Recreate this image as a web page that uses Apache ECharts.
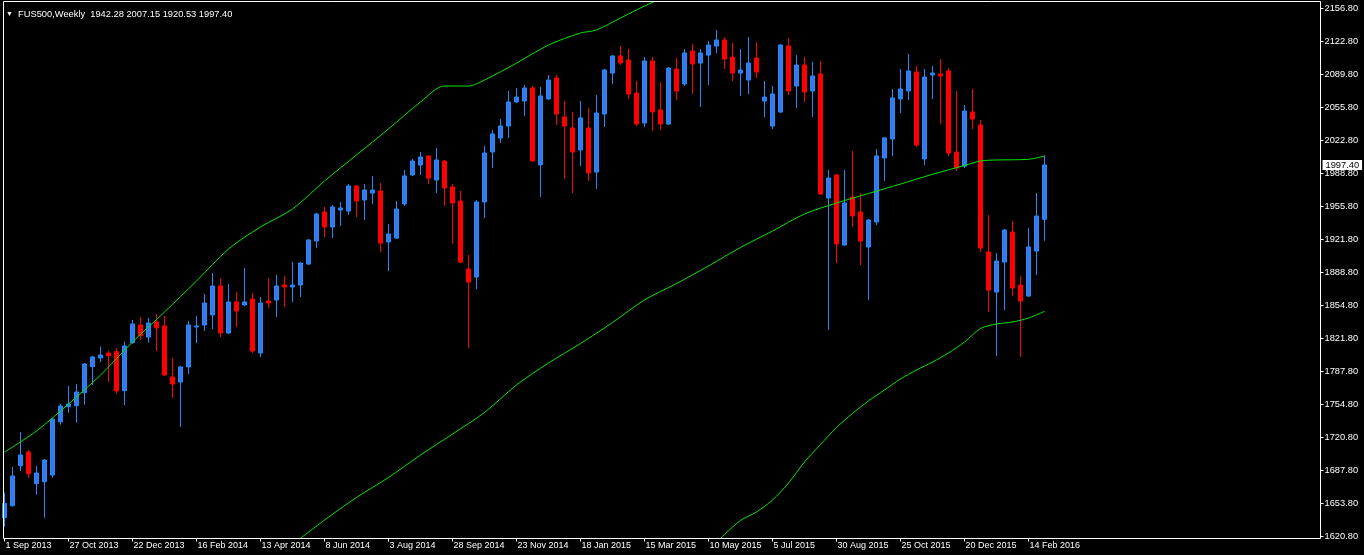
<!DOCTYPE html>
<html>
<head>
<meta charset="utf-8">
<script src="https://cdn.jsdelivr.net/npm/echarts@6/dist/echarts.min.js"></script>
<style>
  html, body { margin: 0; padding: 0; background: #000; }
  #chart { width: 1364px; height: 555px; }
</style>
</head>
<body>
<div id="chart"></div>
<script>
const symbolName = 'FUS500,Weekly';
const firstWeekUTC = [2013, 8, 1];
const slotCount = 165;

// weekly bars
const opens = [
  1639.4, 1651.6, 1692.2, 1706.0, 1673.9, 1675.9, 1682.7, 1736.8, 1752.1, 1753.1,
  1766.3, 1792.7, 1801.5, 1806.5, 1807.9, 1768.3, 1817.0, 1835.0, 1822.8, 1838.1,
  1834.0, 1782.2, 1777.1, 1792.4, 1833.0, 1835.0, 1845.2, 1874.6, 1826.9, 1858.4,
  1855.3, 1861.4, 1806.6, 1859.4, 1860.4, 1875.6, 1873.6, 1875.6, 1896.9, 1920.3,
  1949.7, 1934.5, 1951.7, 1950.7, 1976.1, 1961.9, 1969.0, 1971.0, 1919.3, 1923.3,
  1957.8, 1987.3, 1997.4, 2006.5, 1982.2, 2001.5, 1975.1, 1960.9, 1891.8, 1883.7,
  1959.9, 2010.6, 2024.8, 2037.0, 2061.4, 2062.4, 2075.6, 1997.5, 2064.5, 2085.8,
  2046.2, 2035.0, 2012.7, 2035.0, 1990.3, 2049.2, 2090.8, 2108.1, 2104.0, 2070.5,
  2040.1, 2103.0, 2053.3, 2039.0, 2094.8, 2079.6, 2113.1, 2100.9, 2109.0, 2118.2,
  2124.3, 2107.0, 2090.8, 2083.7, 2106.0, 2062.3, 2037.0, 2051.2, 2118.2, 2077.6,
  2098.9, 2072.5, 2089.8, 1963.9, 1987.3, 1916.2, 1964.9, 1949.7, 1914.2, 1939.6,
  2004.6, 2023.8, 2064.5, 2072.6, 2091.8, 2003.5, 2088.8, 2089.8, 2092.8, 2010.6,
  1996.4, 2051.2, 2038.0, 1909.1, 1868.5, 1898.9, 1929.4, 1875.6, 1864.4, 1910.1,
  1942.28
];
const highs = [
  1664.8, 1690.8, 1726.3, 1708.1, 1691.8, 1698.9, 1740.2, 1754.8, 1773.0, 1775.1,
  1796.4, 1803.8, 1813.0, 1808.6, 1811.3, 1818.0, 1840.1, 1843.1, 1842.1, 1846.2,
  1844.1, 1801.5, 1793.4, 1839.1, 1844.1, 1866.5, 1887.8, 1882.7, 1876.6, 1868.5,
  1892.9, 1867.5, 1863.4, 1882.7, 1885.8, 1884.7, 1899.0, 1899.0, 1922.3, 1948.7,
  1954.8, 1956.8, 1959.9, 1978.1, 1977.1, 1978.1, 1986.3, 1979.1, 1937.5, 1960.9,
  1992.3, 2003.5, 2010.6, 2007.5, 2014.7, 2002.5, 1978.1, 1971.0, 1906.0, 1961.9,
  2016.7, 2032.9, 2044.1, 2072.5, 2075.6, 2078.6, 2077.7, 2076.6, 2088.8, 2088.8,
  2062.4, 2051.3, 2062.4, 2055.3, 2068.5, 2094.9, 2109.1, 2118.3, 2115.2, 2082.7,
  2107.1, 2107.1, 2081.7, 2096.8, 2106.0, 2115.1, 2120.2, 2115.1, 2123.3, 2134.4,
  2127.3, 2121.2, 2115.1, 2127.3, 2122.2, 2082.7, 2077.6, 2120.2, 2126.3, 2109.0,
  2107.0, 2102.0, 2103.0, 1992.3, 1988.3, 1992.3, 2011.7, 1969.0, 1942.6, 2013.7,
  2025.9, 2074.6, 2094.9, 2110.1, 2097.9, 2094.9, 2097.9, 2105.0, 2095.9, 2072.5,
  2058.3, 2074.6, 2043.1, 1946.6, 1908.1, 1932.4, 1940.6, 1884.7, 1933.4, 1969.0,
  2007.15
];
const lows = [
  1630.2, 1650.6, 1686.8, 1680.0, 1662.7, 1639.4, 1680.0, 1733.8, 1746.0, 1735.8,
  1754.1, 1774.1, 1797.4, 1777.1, 1765.3, 1753.8, 1816.0, 1819.8, 1817.1, 1808.6,
  1783.3, 1760.9, 1731.5, 1785.3, 1816.7, 1828.9, 1830.9, 1822.8, 1825.9, 1833.0,
  1854.3, 1806.6, 1802.5, 1852.3, 1843.1, 1853.3, 1858.3, 1863.4, 1895.9, 1913.2,
  1924.3, 1923.3, 1935.5, 1946.7, 1944.6, 1941.6, 1957.8, 1909.1, 1889.8, 1922.3,
  1955.8, 1986.2, 1987.3, 1978.1, 1969.0, 1955.8, 1917.2, 1897.9, 1811.6, 1871.5,
  1943.6, 1994.4, 2019.7, 2024.8, 2060.4, 2047.2, 2000.5, 1965.0, 2063.4, 2038.1,
  1983.2, 1969.0, 1996.4, 1981.2, 1973.1, 2036.0, 2079.7, 2099.0, 2064.5, 2037.0,
  2036.0, 2032.0, 2033.0, 2038.0, 2063.4, 2077.6, 2069.5, 2056.3, 2078.6, 2111.1,
  2094.8, 2082.7, 2067.4, 2069.5, 2085.7, 2046.1, 2033.9, 2050.2, 2068.4, 2055.2,
  2061.3, 2046.2, 1967.0, 1830.0, 1897.9, 1915.2, 1934.5, 1895.9, 1860.4, 1936.5,
  1981.2, 2006.6, 2050.2, 2063.4, 2015.7, 1997.4, 2064.4, 2039.0, 2006.5, 1991.3,
  1994.4, 2033.9, 1909.1, 1848.2, 1803.5, 1850.2, 1864.4, 1802.5, 1863.4, 1885.7,
  1920.53
];
const closes = [
  1653.9, 1681.7, 1703.0, 1684.0, 1684.7, 1697.9, 1739.5, 1752.7, 1754.8, 1767.0,
  1795.4, 1802.5, 1804.5, 1803.8, 1768.0, 1813.7, 1836.0, 1824.2, 1837.0, 1832.0,
  1784.3, 1775.1, 1792.4, 1835.0, 1834.0, 1857.3, 1874.6, 1826.9, 1858.4, 1849.2,
  1858.4, 1808.6, 1857.3, 1857.3, 1874.6, 1873.6, 1875.6, 1897.9, 1921.3, 1947.7,
  1934.5, 1954.8, 1953.8, 1976.1, 1960.9, 1972.0, 1972.0, 1918.2, 1927.4, 1952.8,
  1986.3, 2001.5, 2005.5, 1984.2, 2002.5, 1974.1, 1958.8, 1898.9, 1878.6, 1959.9,
  2009.6, 2028.9, 2037.0, 2061.4, 2066.4, 2075.6, 2001.5, 2067.5, 2083.7, 2049.2,
  2037.0, 2010.6, 2045.2, 1989.3, 2050.2, 2093.9, 2108.1, 2101.0, 2069.5, 2039.1,
  2103.0, 2051.3, 2039.1, 2095.8, 2072.5, 2111.1, 2099.9, 2111.1, 2119.2, 2124.3,
  2105.0, 2090.8, 2093.8, 2100.9, 2091.8, 2066.4, 2069.5, 2119.2, 2072.5, 2098.9,
  2071.5, 2087.8, 1968.0, 1984.2, 1917.2, 1958.8, 1945.7, 1920.3, 1941.6, 2006.6,
  2024.9, 2065.5, 2074.6, 2092.9, 2017.7, 2086.7, 2090.8, 2087.8, 2009.6, 1994.4,
  2052.2, 2044.1, 1913.1, 1870.5, 1899.9, 1931.4, 1872.5, 1859.3, 1914.2, 1945.6,
  1997.40
];

// band lines: [bar index, price]
const upperBand = [
  [0, 1706.0], [4, 1727.4], [8, 1754.8], [12, 1784.2], [16, 1817.7], [20, 1848.2],
  [24, 1879.7], [28, 1912.1], [32, 1934.5], [36, 1952.7], [40, 1981.2], [44, 2007.6],
  [48, 2034.0], [52, 2061.4], [55, 2077.6], [58, 2077.6], [60, 2083.7], [64, 2100.9],
  [68, 2119.2], [72, 2131.4], [74, 2134.5], [77, 2146.6], [80, 2158.8], [82, 2166.0]
];
const middleBand = [
  [36, 1612.2], [40, 1637.0], [44, 1659.9], [48, 1680.2], [52, 1703.0], [56, 1724.3],
  [60, 1746.2], [64, 1774.1], [68, 1796.4], [72, 1816.2], [76, 1837.5], [80, 1860.4],
  [84, 1877.1], [88, 1894.9], [92, 1913.7], [96, 1930.4], [100, 1947.7], [104, 1958.8],
  [108, 1968.5], [112, 1978.1], [116, 1988.0], [120, 1996.9], [122, 2001.5], [124, 2002.5],
  [128, 2003.2], [130, 2006.6]
];
const lowerBand = [
  [88, 1605.6], [90, 1622.3], [92, 1636.5], [94, 1645.2], [96, 1657.3], [98, 1674.6],
  [100, 1695.9], [102, 1713.7], [104, 1730.9], [106, 1745.2], [108, 1757.9], [110, 1769.0],
  [112, 1780.2], [114, 1789.3], [116, 1797.4], [118, 1806.6], [120, 1817.7], [122, 1831.4],
  [124, 1836.0], [126, 1838.0], [128, 1842.1], [130, 1848.9]
];

const priceTicks = [
  '2156.80', '2122.80', '2089.80', '2055.80', '2022.80', '1988.80', '1955.80', '1921.80',
  '1888.80', '1854.80', '1821.80', '1787.80', '1754.80', '1720.80', '1687.80', '1653.80', '1620.80'
];

const monthNames = ['Jan', 'Feb', 'Mar', 'Apr', 'May', 'Jun', 'Jul', 'Aug', 'Sep', 'Oct', 'Nov', 'Dec'];
const weeks = [];
const t0 = Date.UTC(firstWeekUTC[0], firstWeekUTC[1], firstWeekUTC[2]);
for (let i = 0; i < slotCount; i++) {
  const d = new Date(t0 + i * 7 * 86400000);
  weeks.push(d.getUTCDate() + ' ' + monthNames[d.getUTCMonth()] + ' ' + d.getUTCFullYear());
}

const candles = opens.map(function (o, i) {
  return [o, closes[i], lows[i], highs[i]];
});

const last = closes.length - 1;
const font = 'Liberation Sans';
const labelEvery = function (index) {
  return index % 8 === 0 && index <= last;
};

function bandSeries(name, data) {
  return {
    name: name,
    type: 'line',
    data: data,
    symbol: 'none',
    smooth: 0.3,
    silent: true,
    lineStyle: { color: '#00e600', width: 1 },
    z: 3,
  };
}

const chart = echarts.init(document.getElementById('chart'), null, { renderer: 'canvas' });

chart.setOption({
  backgroundColor: '#000',
  animation: false,
  title: {
    text: '{t|\u25BC}  ' + symbolName + '  ' + opens[last].toFixed(2) + ' ' + highs[last].toFixed(2) +
      ' ' + lows[last].toFixed(2) + ' ' + closes[last].toFixed(2),
    left: 1,
    top: 5,
    textStyle: {
      color: '#fff',
      fontSize: 9.3,
      fontWeight: 'normal',
      fontFamily: font,
      rich: { t: { fontSize: 7, color: '#fff' } },
    },
  },
  grid: { left: 0.5, top: 2, width: 1320, height: 536.5 },
  xAxis: {
    type: 'category',
    data: weeks,
    boundaryGap: true,
    axisLine: { show: false },
    axisTick: {
      show: true,
      alignWithLabel: true,
      interval: labelEvery,
      length: 3,
      lineStyle: { color: '#fff' },
    },
    axisLabel: {
      interval: labelEvery,
      align: 'left',
      margin: 3,
      padding: [0, 0, 0, 1],
      color: '#fff',
      fontSize: 9,
      fontFamily: font,
    },
    splitLine: { show: false },
  },
  yAxis: {
    type: 'value',
    position: 'right',
    min: 1618.26,
    max: 2162.89,
    scale: true,
    axisLine: { show: false },
    splitLine: { show: false },
    axisTick: {
      show: true,
      length: 3,
      customValues: priceTicks.map(Number),
      lineStyle: { color: '#fff' },
    },
    axisLabel: {
      customValues: priceTicks.map(Number),
      formatter: function (v) { return v.toFixed(2); },
      margin: 4,
      color: '#fff',
      fontSize: 9.3,
      fontFamily: font,
    },
  },
  series: [
    {
      name: symbolName,
      type: 'candlestick',
      data: candles,
      barWidth: 4,
      silent: true,
      itemStyle: {
        color: '#3a78e6',
        color0: '#ff0000',
        borderColor: '#1e8cff',
        borderColor0: '#ff0000',
        borderColorDoji: '#1e8cff',
        borderWidth: 1,
      },
      markLine: {
        silent: true,
        symbol: ['none', 'none'],
        lineStyle: { color: 'transparent', width: 0 },
        label: {
          position: 'end',
          distance: 2,
          formatter: closes[last].toFixed(2),
          backgroundColor: '#fff',
          color: '#000',
          padding: [1, 3, 0, 3],
          fontSize: 9.3,
          fontFamily: font,
        },
        data: [{ yAxis: closes[last] }],
      },
      z: 2,
    },
    bandSeries('upper', upperBand),
    bandSeries('middle', middleBand),
    bandSeries('lower', lowerBand),
  ],
  graphic: [
    {
      type: 'rect',
      silent: true,
      z: 100,
      shape: { x: 3.5, y: 1.5, width: 1317, height: 537 },
      style: { fill: 'none', stroke: '#fff', lineWidth: 1 },
    },
  ],
});
</script>
</body>
</html>
